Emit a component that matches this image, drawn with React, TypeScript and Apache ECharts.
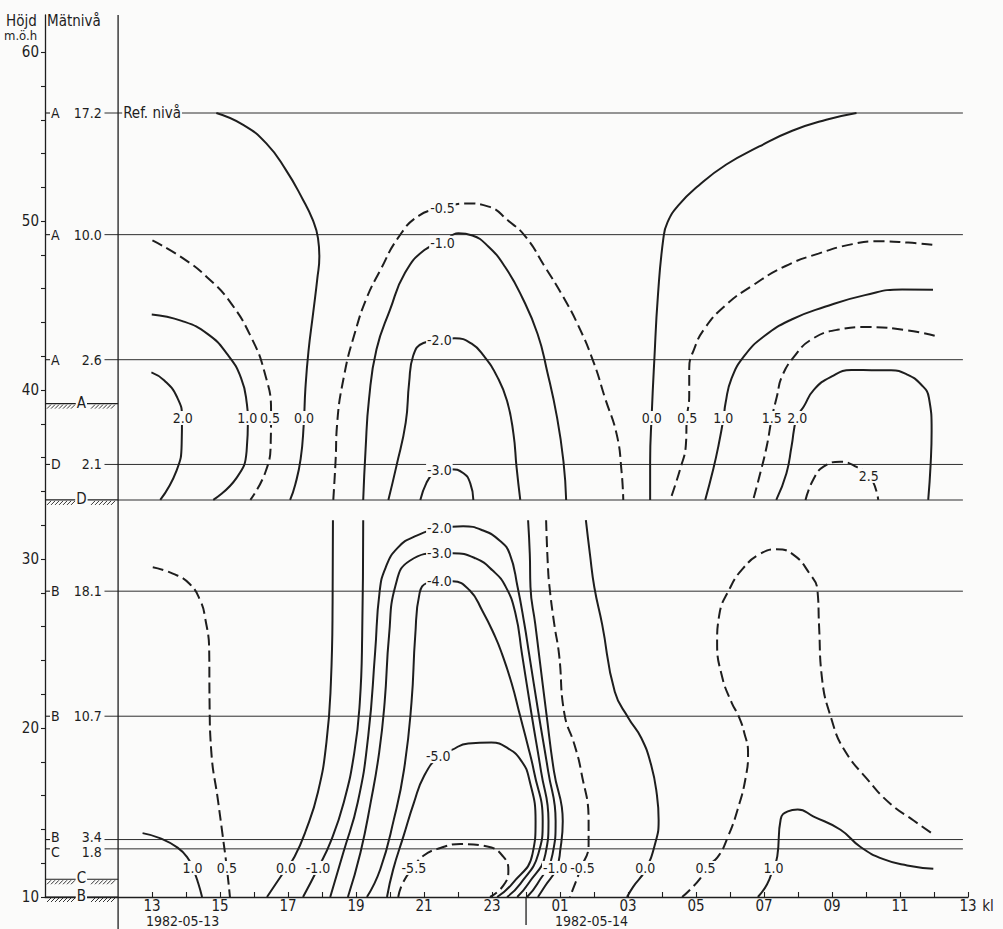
import React, { useEffect, useRef } from "react";
import * as echarts from "echarts";

const INK = "#1e1e1e";
const THIN = "#2e2e2e";
const PAPER = "#fbfbfa";
const FONT = "'Liberation Sans Narrow', 'DejaVu Sans Condensed', 'Liberation Sans', sans-serif";

// x: hours counted from 00:00 on 1982-05-13 (25 = kl 01 on 1982-05-14)
const HOUR_TICKS = [13, 14, 15, 16, 17, 18, 19, 20, 21, 22, 23, 24, 25, 26, 27, 28, 29, 30, 31, 32, 33, 34, 35, 36, 37];
const HOUR_LABELS = [13, 15, 17, 19, 21, 23, 25, 27, 29, 31, 33, 35, 37];
const HEIGHT_TICKS = [10, 12, 14, 16, 18, 20, 22, 24, 26, 28, 30, 32, 34, 36, 38, 40, 42, 44, 46, 48, 50, 52, 54, 56, 58, 60];
const HEIGHT_LABELS = [10, 20, 30, 40, 50, 60];
const DATE_LABELS: [number, number, string][] = [
  [12.82, 8.56, "1982-05-13"],
  [24.85, 8.56, "1982-05-14"],
];
const MIDNIGHT = 24;

// extents of the frame (hours / m ö.h.)
const OUTER_AXIS = 9.85;
const INNER_AXIS = 12;
const LINE_START = 11.6;
const LINE_END = 36.85;
const X_MAX = 37;
const Y_MIN = 10;
const Y_MAX = 62.2;
const FRAME_BOTTOM = 8.1;
const MIDNIGHT_BOTTOM = 8.35;

// ground level of each mast, m ö.h.
const GROUNDS: [string, number][] = [
  ["A", 39.2],
  ["D", 33.5],
  ["C", 11.05],
  ["B", 10],
];
// measuring levels, metres above the mast's ground
const LEVELS: [string, number][] = [
  ["A", 17.2],
  ["A", 10.0],
  ["A", 2.6],
  ["D", 2.1],
  ["B", 18.1],
  ["B", 10.7],
  ["B", 3.4],
  ["C", 1.8],
];
const REF_LEVEL = "Ref. nivå";

// isolines, upper mast pair (A / D): [hour, height]
const UP_P20_L = [[12.98, 41.05], [13.36, 40.57], [13.74, 39.56], [13.88, 38.37], [13.87, 36.83], [13.72, 35.24], [13.24, 33.5]];
const UP_P10_L = [[12.99, 44.48], [13.87, 44.1], [14.63, 43.33], [15.21, 42.13], [15.62, 40.7], [15.79, 39.16], [15.82, 38.3], [15.78, 36.38], [15.48, 34.79], [14.8, 33.5]];
const UP_P05_L = [[13.01, 48.86], [13.88, 47.84], [14.64, 46.64], [15.34, 45.09], [15.93, 43.06], [16.3, 41.11], [16.5, 38.73], [16.49, 36.96], [16.34, 35.18], [15.89, 33.5]];
const UP_Z00_L = [[14.89, 56.4], [15.68, 55.7], [16.36, 54.6], [16.93, 53.05], [17.43, 51.3], [17.72, 50.1], [17.88, 49.0], [17.92, 47.9], [17.86, 46.6], [17.74, 44.6], [17.6, 42.3], [17.51, 40.1], [17.46, 37.95], [17.37, 35.93], [17.21, 34.4], [17.06, 33.5]];
const UP_M05 = [[18.33, 33.5], [18.4, 35.92], [18.44, 37.93], [18.65, 40.88], [18.97, 43.42], [19.32, 45.49], [19.71, 47.08], [20.24, 49.02], [20.84, 50.31], [21.54, 50.77], [22.22, 51.05], [22.9, 50.86], [23.48, 50.02], [23.99, 49.07], [24.56, 47.28], [25.05, 45.67], [25.52, 43.89], [25.98, 41.69], [26.32, 39.55], [26.67, 37.35], [26.81, 35.17], [26.86, 33.5]];
const UP_M10 = [[19.21, 33.5], [19.28, 36.49], [19.38, 39.45], [19.6, 42.4], [20.0, 44.76], [20.44, 46.94], [21.01, 48.29], [21.54, 48.7], [22.01, 49.28], [22.42, 49.15], [22.89, 48.5], [23.38, 47.3], [23.88, 45.51], [24.34, 43.32], [24.62, 41.12], [24.91, 38.4], [25.1, 35.79], [25.18, 33.5]];
const UP_M20 = [[19.95, 33.5], [20.19, 35.53], [20.46, 38.07], [20.56, 40.43], [20.68, 42.03], [20.98, 42.79], [21.51, 42.96], [21.9, 43.07], [22.39, 42.76], [22.77, 41.99], [23.15, 40.8], [23.44, 39.37], [23.63, 37.41], [23.72, 35.46], [23.83, 33.5]];
const UP_M30 = [[20.89, 33.5], [21.07, 34.51], [21.28, 35.1], [21.48, 35.27], [21.77, 35.32], [22.16, 35.08], [22.36, 34.48], [22.45, 33.5]];
const UP_Z00_R = [[33.72, 56.4], [32.83, 56.0], [31.83, 55.35], [30.86, 54.42], [29.89, 53.35], [29.08, 52.11], [28.48, 50.93], [28.16, 49.93], [28.04, 48.99], [27.88, 45.62], [27.77, 41.66], [27.7, 38.7], [27.65, 35.74], [27.65, 33.5]];
const UP_P05_R = [[35.95, 48.6], [35.24, 48.73], [34.36, 48.81], [33.6, 48.64], [32.6, 48.08], [31.62, 47.33], [30.64, 46.16], [29.85, 44.99], [29.25, 43.64], [28.95, 42.46], [28.8, 41.28], [28.8, 39.69], [28.73, 38.35], [28.7, 36.73], [28.54, 35.37], [28.24, 33.5]];
const UP_P10_R = [[35.97, 45.94], [35.06, 45.96], [33.97, 45.62], [32.79, 44.93], [31.81, 44.18], [31.01, 43.2], [30.42, 42.02], [30.04, 40.67], [29.87, 39.25], [29.81, 38.35], [29.66, 36.71], [29.51, 35.35], [29.27, 33.5]];
const UP_P15_R = [[36.02, 43.22], [35.23, 43.53], [34.05, 43.73], [33.16, 43.57], [32.39, 42.99], [31.89, 41.99], [31.53, 40.82], [31.38, 39.63], [31.23, 38.35], [31.08, 36.68], [30.89, 35.09], [30.68, 33.5]];
const UP_P20_R = [[31.36, 33.5], [31.66, 35.08], [31.81, 36.68], [31.96, 38.35], [32.17, 39.03], [32.47, 40.03], [32.98, 40.8], [33.57, 41.19], [34.16, 41.18], [34.74, 41.17], [35.21, 40.92], [35.62, 40.33], [35.85, 39.55], [35.93, 37.6], [35.9, 35.59], [35.83, 33.5]];
const UP_P25_R = [[32.22, 33.5], [32.45, 34.71], [32.75, 35.47], [33.25, 35.76], [33.72, 35.45], [34.13, 34.85], [34.36, 33.5]];

// isolines, lower mast pair (B / C): [hour, height]
const LO_P10_L = [[12.72, 13.78], [13.25, 13.47], [13.75, 12.92], [14.04, 12.33], [14.2, 11.7], [14.36, 10.8], [14.47, 10]];
const LO_P05_L = [[13.02, 29.51], [13.61, 29.14], [14.1, 28.54], [14.42, 27.53], [14.56, 26.52], [14.68, 24.57], [14.69, 21.61], [14.74, 18.65], [14.94, 15.69], [15.07, 13.73], [15.2, 11.7], [15.29, 10]];
const LO_Z00_L = [[18.32, 32.3], [18.31, 27.46], [18.26, 22.72], [18.13, 19.18], [17.88, 16.22], [17.51, 13.86], [17.19, 12.38], [16.95, 11.7], [16.38, 10]];
const LO_M10_L = [[19.21, 32.3], [19.18, 25.49], [19.11, 21.52], [18.95, 18.57], [18.64, 15.61], [18.25, 13.26], [17.88, 11.7], [17.44, 10]];
const LO_M20 = [[18.24, 10], [18.63, 12.66], [19.05, 15.61], [19.36, 19.57], [19.56, 24.47], [19.69, 28.02], [19.87, 29.5], [20.23, 30.68], [20.76, 31.37], [21.5, 31.83], [22.15, 31.94], [22.74, 31.69], [23.23, 31.09], [23.52, 30.31], [23.75, 28.36], [23.95, 26.17], [24.09, 24.39], [24.37, 20.83], [24.65, 17.45], [24.87, 14.49], [24.78, 12.54], [24.33, 10.77], [24.03, 10]];
const LO_M30 = [[18.76, 10], [19.13, 12.64], [19.43, 15.6], [19.68, 18.56], [19.84, 21.51], [19.97, 25.47], [20.16, 28.43], [20.58, 29.9], [21.49, 30.35], [21.84, 30.35], [22.52, 30.04], [23.02, 29.32], [23.4, 28.37], [23.69, 26.76], [23.88, 24.39], [24.16, 20.83], [24.44, 17.45], [24.66, 14.5], [24.57, 12.54], [24.06, 10.77], [23.74, 10]];
const LO_M40 = [[19.32, 10], [19.71, 11.63], [20.11, 14.58], [20.41, 17.53], [20.63, 21.5], [20.74, 25.46], [20.87, 28.0], [21.1, 28.59], [21.49, 28.7], [21.84, 28.69], [22.34, 28.15], [22.71, 26.96], [23.09, 25.41], [23.29, 24.4], [23.58, 22.62], [23.81, 20.84], [24.04, 19.06], [24.23, 17.46], [24.49, 14.5], [24.36, 12.55], [23.83, 10.78], [23.44, 10]];
const LO_M50 = [[19.91, 10], [20.09, 11.62], [20.4, 13.63], [20.7, 15.57], [21.0, 17.16], [21.44, 18.34], [21.8, 18.69], [22.3, 19.09], [22.98, 19.14], [23.48, 18.78], [23.86, 18.06], [24.09, 17.0], [24.28, 14.5], [24.19, 12.55], [23.59, 10.78], [23.15, 10]];
const LO_M55 = [[20.24, 10], [20.38, 10.85], [20.68, 11.73], [20.98, 12.44], [21.48, 12.9], [22.07, 13.13], [22.86, 12.99], [23.33, 12.39], [23.48, 11.56], [23.33, 10.67], [22.94, 10]];
const LO_M10_R = [[24.06, 32.3], [24.11, 30.31], [24.13, 28.35], [24.27, 26.16], [24.38, 24.38], [24.6, 20.83], [24.82, 17.45], [25.08, 14.48], [25.01, 12.83], [24.89, 11.67], [24.56, 10.65], [24.35, 10]];
const LO_M05_R = [[24.59, 32.3], [24.64, 29.7], [24.69, 28.35], [24.83, 26.15], [24.97, 24.37], [25.13, 20.82], [25.42, 19.04], [25.62, 17.44], [25.84, 14.47], [25.84, 13.11], [25.6, 11.64], [25.38, 10.46], [25.29, 10]];
const LO_Z00_R = [[25.76, 32.3], [25.88, 30.28], [26.01, 28.32], [26.24, 26.12], [26.61, 22.15], [27.01, 20.6], [27.39, 19.41], [27.68, 17.81], [27.85, 16.03], [27.9, 14.55], [27.81, 13.25], [27.51, 11.6], [27.15, 10.6], [26.97, 10]];
const LO_P05_R = [[28.59, 10], [29.12, 11.09], [29.27, 11.76], [29.63, 12.35], [29.93, 13.53], [30.23, 15.22], [30.47, 17.17], [30.53, 18.53], [30.42, 19.71], [30.25, 20.72], [30.05, 21.49], [29.76, 23.09], [29.62, 25.05], [29.68, 26.65], [29.99, 28.25], [30.37, 29.42], [30.88, 30.3], [31.35, 30.58], [31.85, 30.28], [32.34, 29.14], [32.57, 28.19], [32.62, 26.0], [32.7, 23.04], [32.99, 20.49], [33.36, 18.71], [34.06, 16.92], [34.73, 15.49], [35.4, 14.53], [35.99, 13.69]];
const LO_P10_R = [[30.82, 10], [31.09, 10.76], [31.27, 11.7], [31.39, 12.41], [31.49, 14.6], [31.7, 15.07], [31.99, 15.18], [32.46, 14.76], [33.25, 13.98], [33.84, 12.96], [34.51, 12.24], [35.21, 11.87], [35.98, 11.67]];

// [trace, dashed]
const ISOLINES: [number[][], boolean][] = [
  [UP_P20_L, false], [UP_P10_L, false], [UP_P05_L, true], [UP_Z00_L, false],
  [UP_M05, true], [UP_M10, false], [UP_M20, false], [UP_M30, false],
  [UP_Z00_R, false], [UP_P05_R, true], [UP_P10_R, false], [UP_P15_R, true], [UP_P20_R, false], [UP_P25_R, true],
  [LO_P10_L, false], [LO_P05_L, true], [LO_Z00_L, false], [LO_M10_L, false],
  [LO_M20, false], [LO_M30, false], [LO_M40, false], [LO_M50, false], [LO_M55, true],
  [LO_M10_R, false], [LO_M05_R, true], [LO_Z00_R, false], [LO_P05_R, true], [LO_P10_R, false],
];

// isoline values written on the lines: [hour, height, text]
const ISO_LABELS: [number, number, string][] = [
  [13.9, 38.35, "2.0"], [15.8, 38.35, "1.0"], [16.47, 38.35, "0.5"], [17.47, 38.35, "0.0"],
  [21.54, 50.77, "-0.5"], [21.54, 48.72, "-1.0"], [21.45, 42.95, "-2.0"], [21.45, 35.27, "-3.0"],
  [27.7, 38.35, "0.0"], [28.74, 38.35, "0.5"], [29.8, 38.35, "1.0"], [31.23, 38.35, "1.5"], [31.98, 38.35, "2.0"],
  [34.08, 34.92, "2.5"],
  [21.45, 31.83, "-2.0"], [21.45, 30.35, "-3.0"], [21.45, 28.7, "-4.0"], [21.42, 18.34, "-5.0"],
  [14.19, 11.72, "1.0"], [15.2, 11.72, "0.5"], [16.94, 11.72, "0.0"], [17.88, 11.72, "-1.0"],
  [20.7, 11.72, "-5.5"], [24.86, 11.72, "-1.0"], [25.66, 11.72, "-0.5"], [27.51, 11.72, "0.0"],
  [29.28, 11.72, "0.5"], [31.28, 11.72, "1.0"],
];

const groundOf = (s: string) => (GROUNDS.find((g) => g[0] === s) as [string, number])[1];
const hourText = (v: number) => String(v % 24).padStart(2, "0");

function buildOption(): any {
  const series: any[] = [];
  const plain = (data: number[][], width: number, color: string, z = 2) => ({
    type: "line",
    data,
    silent: true,
    clip: false,
    symbol: "none",
    lineStyle: { color, width },
    z,
  });

  // measuring levels
  LEVELS.forEach(([s, v]) => {
    const h = groundOf(s) + v;
    series.push(plain([[LINE_START, h], [LINE_END, h]], 1, THIN));
  });
  // floor of the upper mast pair
  series.push(plain([[INNER_AXIS, groundOf("D")], [LINE_END, groundOf("D")]], 1.1, THIN));
  // inner (Mätnivå) axis and the midnight mark
  series.push(plain([[INNER_AXIS, FRAME_BOTTOM], [INNER_AXIS, Y_MAX]], 1.3, INK));
  series.push(plain([[MIDNIGHT, Y_MIN], [MIDNIGHT, MIDNIGHT_BOTTOM]], 1.3, INK));

  // isolines
  ISOLINES.forEach(([trace, dashed]) => {
    series.push({
      type: "line",
      data: trace,
      silent: true,
      clip: false,
      symbol: "none",
      smooth: 0.5,
      lineStyle: { color: INK, width: 2, type: dashed ? [11, 5] : "solid", cap: "butt" },
      z: 3,
    });
  });

  // hatched ground lines between the two vertical axes
  series.push({
    type: "custom",
    silent: true,
    clip: false,
    z: 4,
    data: GROUNDS.map(([, h]) => [OUTER_AXIS, INNER_AXIS, h]),
    renderItem: (params: any, api: any) => {
      const h = api.value(2);
      const p1 = api.coord([api.value(0), h]);
      const p2 = api.coord([api.value(1), h]);
      const mid = api.coord([10.92, h])[0];
      const kids: any[] = [
        { type: "line", shape: { x1: p1[0], y1: p1[1], x2: p2[0], y2: p2[1] }, style: { stroke: INK, lineWidth: 1.2 } },
      ];
      for (let x = p1[0] + 2; x < p2[0] - 4; x += 4) {
        if (Math.abs(x + 2 - mid) < 8) continue;
        kids.push({ type: "line", shape: { x1: x, y1: p1[1] + 5, x2: x + 4, y2: p1[1] + 1 }, style: { stroke: INK, lineWidth: 0.9 } });
      }
      kids.push({
        type: "text",
        x: mid,
        y: p1[1] - 1,
        style: {
          text: GROUNDS[params.dataIndex][0],
          fill: INK,
          fontSize: 15,
          fontFamily: FONT,
          align: "center",
          verticalAlign: "middle",
          backgroundColor: PAPER,
          padding: [0, 1],
        },
      });
      return { type: "group", children: kids };
    },
  });

  // level markers on the height axis: tick, mast letter, level value
  series.push({
    type: "custom",
    silent: true,
    clip: false,
    z: 4,
    data: LEVELS.map(([s, v]) => [OUTER_AXIS, groundOf(s) + v]),
    renderItem: (params: any, api: any) => {
      const i = params.dataIndex;
      const [s, v] = LEVELS[i];
      const h = groundOf(s) + v;
      // spread the texts of two levels that lie close together
      let dy = 0;
      LEVELS.forEach(([s2, v2], j) => {
        if (j === i) return;
        const d = h - (groundOf(s2) + v2);
        if (Math.abs(d) < 1) dy += d > 0 ? -3 : 3;
      });
      const p = api.coord([api.value(0), api.value(1)]);
      const q = api.coord([11.52, api.value(1)]);
      const ts = { fill: INK, fontSize: 14, fontFamily: FONT, verticalAlign: "middle", lineHeight: 13 };
      return {
        type: "group",
        children: [
          { type: "line", shape: { x1: p[0], y1: p[1], x2: p[0] + 5, y2: p[1] }, style: { stroke: INK, lineWidth: 1.1 } },
          { type: "text", x: p[0] + 6, y: p[1] + dy, style: { ...ts, text: s, align: "left" } },
          { type: "text", x: q[0], y: q[1] + dy, style: { ...ts, text: v.toFixed(1), align: "right" } },
        ],
      };
    },
  });

  const textSeries = (items: [number, number, string][], align: string, size: number, mask: boolean) => ({
    type: "custom",
    silent: true,
    clip: false,
    z: 6,
    data: items.map((t) => [t[0], t[1]]),
    renderItem: (params: any, api: any) => {
      const p = api.coord([api.value(0), api.value(1)]);
      return {
        type: "text",
        x: p[0],
        y: p[1],
        style: {
          text: items[params.dataIndex][2],
          fill: INK,
          fontSize: size,
          fontFamily: FONT,
          lineHeight: size - 2,
          align,
          verticalAlign: "middle",
          backgroundColor: mask ? PAPER : "transparent",
          padding: mask ? [1, 1] : 0,
        },
      };
    },
  });

  series.push(textSeries(ISO_LABELS, "center", 14, true));
  series.push(textSeries([[12.12, groundOf("A") + 17.2, REF_LEVEL]], "left", 15, true));
  series.push(textSeries(DATE_LABELS, "left", 14, false));
  series.push(textSeries([[37.42, 9.45, "kl"]], "left", 15, false));

  return {
    animation: false,
    backgroundColor: PAPER,
    grid: { left: 45, top: 15, width: 923, height: 882 },
    xAxis: {
      type: "value",
      min: OUTER_AXIS,
      max: X_MAX,
      splitLine: { show: false },
      axisLine: { onZero: false, lineStyle: { color: INK, width: 1.3 } },
      axisTick: { inside: true, length: 5, customValues: HOUR_TICKS, lineStyle: { color: INK, width: 1.1 } },
      axisLabel: { customValues: HOUR_LABELS, formatter: hourText, margin: 2, lineHeight: 13, color: INK, fontSize: 15, fontFamily: FONT },
    },
    yAxis: {
      type: "value",
      min: Y_MIN,
      max: Y_MAX,
      splitLine: { show: false },
      axisLine: { onZero: false, lineStyle: { color: INK, width: 1.3 } },
      axisTick: { inside: false, length: 4, customValues: HEIGHT_TICKS, lineStyle: { color: INK, width: 1.1 } },
      axisLabel: { customValues: HEIGHT_LABELS, margin: 6, color: INK, fontSize: 15, fontFamily: FONT },
    },
    graphic: [
      { type: "text", left: 6, top: 13, z: 10, style: { text: "Höjd", fill: INK, fontSize: 15, lineHeight: 14, fontFamily: FONT } },
      { type: "text", left: 4, top: 29, z: 10, style: { text: "m.ö.h", fill: INK, fontSize: 13, lineHeight: 12, fontFamily: FONT } },
      { type: "text", left: 47, top: 13, z: 10, style: { text: "Mätnivå", fill: INK, fontSize: 15, lineHeight: 14, fontFamily: FONT } },
    ],
    series,
  };
}

export default function App() {
  const ref = useRef<HTMLDivElement>(null);
  useEffect(() => {
    document.body.style.margin = "0";
    const chart = echarts.init(ref.current as HTMLDivElement, null, { renderer: "svg" });
    chart.setOption(buildOption());
    return () => chart.dispose();
  }, []);
  return <div ref={ref} style={{ position: "fixed", left: 0, top: 0, width: 1003, height: 929, background: PAPER }} />;
}
